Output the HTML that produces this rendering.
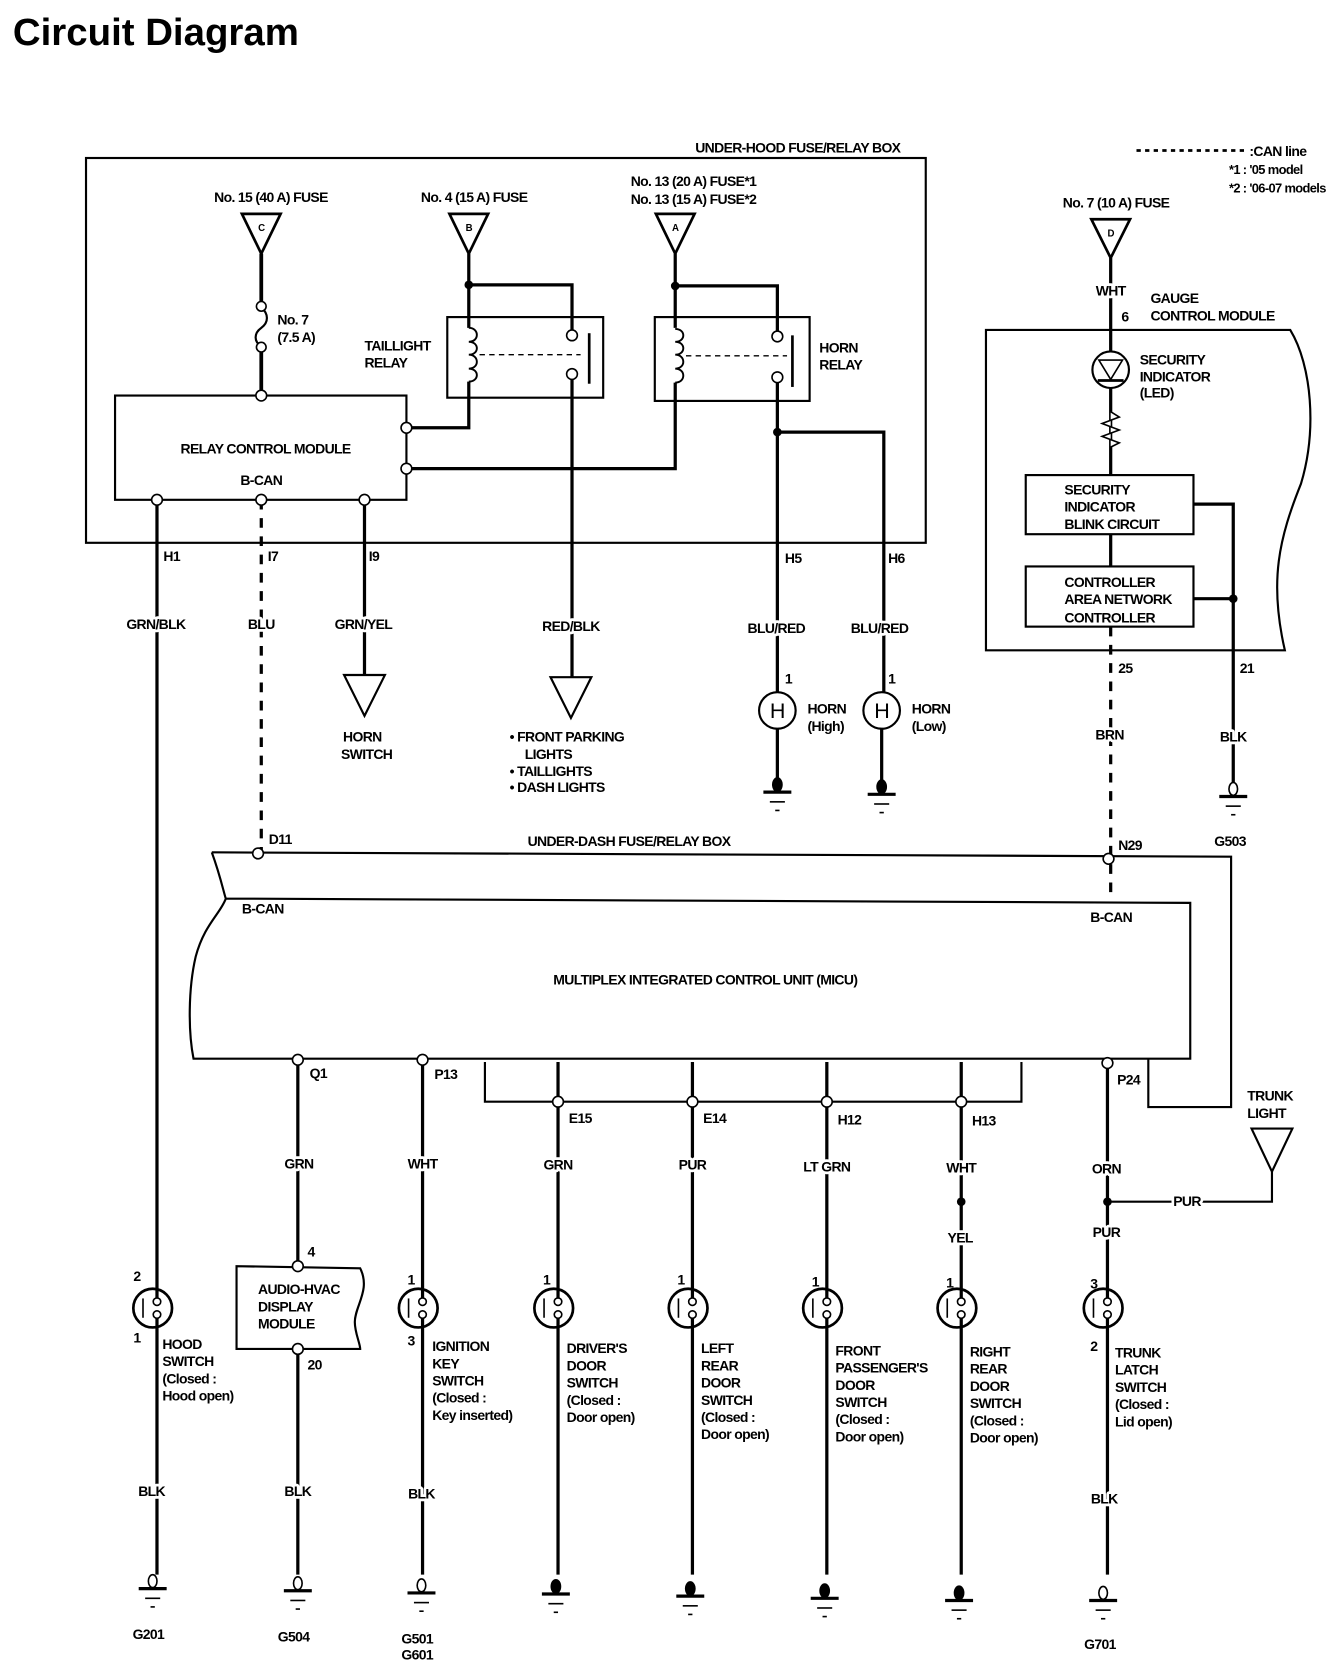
<!DOCTYPE html>
<html><head><meta charset="utf-8"><style>
html,body{margin:0;padding:0;background:#fff;}
svg{display:block;}
text{font-family:"Liberation Sans Narrow","Liberation Sans",sans-serif;font-weight:bold;font-size:13px;fill:#000;}
.t{font-size:13px;letter-spacing:-0.6px;}
.w{paint-order:stroke;stroke:#fff;stroke-width:5px;stroke-linejoin:round;}
</style></head><body>
<svg width="1344" height="1680" viewBox="0 0 1250 1563" preserveAspectRatio="none" xmlns="http://www.w3.org/2000/svg">
<defs>
<g id="sw"><circle cx="-4" cy="0" r="18" fill="#fff" stroke="#000" stroke-width="2.5"/><line x1="-13" y1="-9" x2="-13" y2="9" stroke="#000" stroke-width="1.5"/><line x1="0" y1="-18" x2="0" y2="-8" stroke="#000" stroke-width="3"/><line x1="0" y1="8" x2="0" y2="18" stroke="#000" stroke-width="3"/><circle cx="0" cy="-6" r="3.5" fill="#fff" stroke="#000" stroke-width="1.5"/><circle cx="0" cy="6" r="3.5" fill="#fff" stroke="#000" stroke-width="1.5"/></g>
<g id="go"><ellipse cx="0" cy="-6" rx="4" ry="6" fill="#fff" stroke="#000" stroke-width="1.5"/><line x1="-13" y1="1" x2="13" y2="1" stroke="#000" stroke-width="3"/><line x1="-7" y1="10" x2="7" y2="10" stroke="#000" stroke-width="1.5"/><line x1="-2" y1="18" x2="2" y2="18" stroke="#000" stroke-width="1.5"/></g>
<g id="gf"><ellipse cx="0" cy="-6" rx="5" ry="7" fill="#000"/><line x1="-13" y1="1" x2="13" y2="1" stroke="#000" stroke-width="3"/><line x1="-7" y1="10" x2="7" y2="10" stroke="#000" stroke-width="1.5"/><line x1="-2" y1="18" x2="2" y2="18" stroke="#000" stroke-width="1.5"/></g>
</defs>
<text x="12" y="42" textLength="266" lengthAdjust="spacingAndGlyphs" style="font-family:'Liberation Sans',sans-serif;font-size:35px;font-weight:bold;">Circuit Diagram</text>

<g fill="none" stroke="#000" stroke-width="2.5">
<rect x="80" y="147" width="781" height="358" stroke-width="2"/>
<polygon points="225,199 261,199 243,236"/>
<line x1="243" y1="236" x2="243" y2="282" stroke-width="3.5"/>
<path d="M243,286 C250,292 250,300 243,305 C236,310 236,318 243,322" stroke-width="2"/>
<line x1="243" y1="326" x2="243" y2="368" stroke-width="3.5"/>
<rect x="107" y="368" width="271" height="97" stroke-width="2"/>
<polygon points="418,199 454,199 436,236"/>
<line x1="436" y1="236" x2="436" y2="305" stroke-width="3"/>
<polyline points="436,265 532,265 532,313" stroke-width="3"/>
<rect x="416" y="295" width="145" height="75" stroke-width="2"/>
<path d="M436,305 C446,305 446,318 436,318 M436,318 C446,318 446,330 436,330 M436,330 C446,330 446,343 436,343 M436,343 C446,343 446,355 436,355" stroke-width="1.8"/>
<polyline points="436,355 436,398 378,398" stroke-width="3"/>
<line x1="446" y1="330" x2="540" y2="330" stroke-width="1.3" stroke-dasharray="5,4"/>
<line x1="548" y1="310" x2="548" y2="357" stroke-width="2.5"/>
<line x1="532" y1="350" x2="532" y2="630" stroke-width="3"/>
<polygon points="512,630 550,630 531,668" stroke-width="2"/>
<polygon points="610,199 646,199 628,236"/>
<line x1="628" y1="236" x2="628" y2="305" stroke-width="3"/>
<polyline points="628,266 723,266 723,313" stroke-width="3"/>
<rect x="609" y="295" width="144" height="78" stroke-width="2"/>
<path d="M628,306 C638,306 638,318 628,318 M628,318 C638,318 638,330 628,330 M628,330 C638,330 638,343 628,343 M628,343 C638,343 638,356 628,356" stroke-width="1.8"/>
<polyline points="628,356 628,436 378,436" stroke-width="3"/>
<line x1="638" y1="331" x2="732" y2="331" stroke-width="1.3" stroke-dasharray="5,4"/>
<line x1="737" y1="312" x2="737" y2="360" stroke-width="2.5"/>
<line x1="723" y1="352" x2="723" y2="644" stroke-width="3"/>
<polyline points="723,402 822,402 822,644" stroke-width="3"/>
<circle cx="723" cy="661" r="17" stroke-width="2"/>
<circle cx="820" cy="661" r="17" stroke-width="2"/>
<line x1="723" y1="678" x2="723" y2="728" stroke-width="3"/>
<line x1="820" y1="678" x2="820" y2="728" stroke-width="3"/>
<line x1="146" y1="465" x2="146" y2="1199" stroke-width="3"/>
<line x1="243" y1="465" x2="243" y2="793" stroke-width="3" stroke-dasharray="9,8"/>
<line x1="339" y1="465" x2="339" y2="628" stroke-width="3"/>
<polygon points="320,628 358,628 339,666" stroke-width="2"/>

<polygon points="1015,204 1051,204 1033,240"/>
<line x1="1033" y1="240" x2="1033" y2="442" stroke-width="3"/>
<path d="M917,307 L1200,307 C1220,340 1225,400 1210,450 C1190,500 1180,540 1195,605 L917,605 Z" stroke-width="2"/>
<circle cx="1033" cy="344" r="17" fill="#fff" stroke-width="2"/>
<polygon points="1022,335 1044,335 1033,353" stroke-width="1.5"/>
<line x1="1021" y1="354" x2="1045" y2="354" stroke-width="2.5"/>
<path d="M1033,383 L1041,388 L1025,394 L1041,400 L1025,406 L1041,412 L1033,416" fill="#fff" stroke-width="1.5"/>
<rect x="954" y="442" width="156" height="55" fill="#fff" stroke-width="2"/>
<line x1="1033" y1="497" x2="1033" y2="527" stroke-width="3"/>
<rect x="954" y="527" width="156" height="56" fill="#fff" stroke-width="2"/>
<polyline points="1110,469 1147,469 1147,730" stroke-width="3"/>
<line x1="1110" y1="557" x2="1147" y2="557" stroke-width="3"/>
<line x1="1033" y1="583" x2="1033" y2="836" stroke-width="3" stroke-dasharray="9,8"/>

<path d="M197,793 L1145,797 L1145,1030 L1068,1030 L1068,985" stroke-width="2"/>
<path d="M197,793 C205,815 208,830 210,836 L1107,840 L1107,985 L180,985 C175,960 175,920 182,890 C190,860 205,850 210,836" stroke-width="2"/>
<polyline points="451,988 451,1025 950,1025 950,988" stroke-width="2"/>
<line x1="519" y1="988" x2="519" y2="1199" stroke-width="3"/>
<line x1="644" y1="988" x2="644" y2="1199" stroke-width="3"/>
<line x1="769" y1="988" x2="769" y2="1199" stroke-width="3"/>
<line x1="894" y1="988" x2="894" y2="1199" stroke-width="3"/>
<line x1="277" y1="985" x2="277" y2="1178" stroke-width="3"/>
<line x1="277" y1="1255" x2="277" y2="1465" stroke-width="3"/>
<line x1="393" y1="985" x2="393" y2="1199" stroke-width="3"/>
<line x1="1030" y1="988" x2="1030" y2="1199" stroke-width="3"/>
<polyline points="1030,1118 1183,1118 1183,1090" stroke-width="2"/>
<polygon points="1164,1050 1202,1050 1183,1090" stroke-width="2"/>
<path d="M220,1178 L335,1180 C345,1200 330,1215 330,1230 C330,1240 335,1250 335,1255 L220,1255 Z" stroke-width="2"/>
<line x1="146" y1="1235" x2="146" y2="1465" stroke-width="3"/>
<line x1="393" y1="1235" x2="393" y2="1465" stroke-width="3"/>
<line x1="519" y1="1235" x2="519" y2="1465" stroke-width="3"/>
<line x1="644" y1="1235" x2="644" y2="1465" stroke-width="3"/>
<line x1="769" y1="1235" x2="769" y2="1465" stroke-width="3"/>
<line x1="894" y1="1235" x2="894" y2="1465" stroke-width="3"/>
<line x1="1030" y1="1235" x2="1030" y2="1465" stroke-width="3"/>
<line x1="1057" y1="140" x2="1158" y2="140" stroke-width="2.5" stroke-dasharray="4,4"/>
</g>

<g fill="#fff" stroke="#000" stroke-width="1.5">
<circle cx="243" cy="285" r="4.5"/><circle cx="243" cy="323" r="4.5"/><circle cx="243" cy="368" r="5"/>
<circle cx="146" cy="465" r="5"/><circle cx="243" cy="465" r="5"/><circle cx="339" cy="465" r="5"/>
<circle cx="378" cy="398" r="5"/><circle cx="378" cy="436" r="5"/>
<circle cx="532" cy="312" r="5"/><circle cx="532" cy="348" r="5"/>
<circle cx="723" cy="313" r="5"/><circle cx="723" cy="351" r="5"/>
<circle cx="240" cy="794" r="5"/><circle cx="1031" cy="799" r="5"/>
<circle cx="277" cy="986" r="5"/><circle cx="393" cy="986" r="5"/><circle cx="1030" cy="989" r="5"/>
<circle cx="519" cy="1025" r="5"/><circle cx="644" cy="1025" r="5"/><circle cx="769" cy="1025" r="5"/><circle cx="894" cy="1025" r="5"/>
<circle cx="277" cy="1178" r="5"/><circle cx="277" cy="1255" r="5"/>
</g>
<g fill="#000"><circle cx="436" cy="265" r="4"/><circle cx="628" cy="266" r="4"/><circle cx="723" cy="402" r="4"/><circle cx="1147" cy="557" r="4"/><circle cx="894" cy="1118" r="4"/><circle cx="1030" cy="1118" r="4"/></g>

<use href="#sw" x="146" y="1217"/><use href="#sw" x="393" y="1217"/><use href="#sw" x="519" y="1217"/><use href="#sw" x="644" y="1217"/><use href="#sw" x="769" y="1217"/><use href="#sw" x="894" y="1217"/><use href="#sw" x="1030" y="1217"/>
<use href="#go" x="142" y="1477"/><use href="#go" x="277" y="1479"/><use href="#go" x="392" y="1481"/><use href="#go" x="1026" y="1488"/>
<use href="#gf" x="517" y="1482"/><use href="#gf" x="642" y="1484"/><use href="#gf" x="767" y="1486"/><use href="#gf" x="892" y="1488"/>
<use href="#gf" x="723" y="736"/><use href="#gf" x="820" y="738"/><use href="#go" x="1147" y="740"/>

<g class="t">
<text x="742" y="142" text-anchor="middle">UNDER-HOOD FUSE/RELAY BOX</text>
<text x="1162" y="145">:CAN line</text>
<text x="1143" y="162" style="font-size:12px">*1 : '05 model</text>
<text x="1143" y="179" style="font-size:12px">*2 : '06-07 models</text>
<text x="252" y="188" text-anchor="middle">No. 15 (40 A) FUSE</text>
<text x="441" y="188" text-anchor="middle">No. 4 (15 A) FUSE</text>
<text x="645" y="173" text-anchor="middle">No. 13 (20 A) FUSE*1</text>
<text x="645" y="190" text-anchor="middle">No. 13 (15 A) FUSE*2</text>
<text x="1038" y="193" text-anchor="middle">No. 7 (10 A) FUSE</text>
<text x="243" y="215" text-anchor="middle" style="font-size:9px">C</text>
<text x="436" y="215" text-anchor="middle" style="font-size:9px">B</text>
<text x="628" y="215" text-anchor="middle" style="font-size:9px">A</text>
<text x="1033" y="220" text-anchor="middle" style="font-size:9px">D</text>
<text x="258" y="302">No. 7</text><text x="258" y="318">(7.5 A)</text>
<text x="339" y="326">TAILLIGHT</text><text x="339" y="342">RELAY</text>
<text x="762" y="328">HORN</text><text x="762" y="344">RELAY</text>
<text x="247" y="422" text-anchor="middle">RELAY CONTROL MODULE</text>
<text x="243" y="451" text-anchor="middle">B-CAN</text>
<text x="152" y="522">H1</text><text x="249" y="522">I7</text><text x="343" y="522">I9</text>
<text x="730" y="524">H5</text><text x="826" y="524">H6</text>
<g class="w">
<text x="145" y="585" text-anchor="middle">GRN/BLK</text>
<text x="243" y="585" text-anchor="middle">BLU</text>
<text x="338" y="585" text-anchor="middle">GRN/YEL</text>
<text x="531" y="587" text-anchor="middle">RED/BLK</text>
<text x="722" y="589" text-anchor="middle">BLU/RED</text>
<text x="818" y="589" text-anchor="middle">BLU/RED</text>
<text x="1033" y="275" text-anchor="middle">WHT</text>
<text x="1032" y="688" text-anchor="middle">BRN</text><text x="1147" y="690" text-anchor="middle">BLK</text>
<text x="278" y="1087" text-anchor="middle">GRN</text><text x="393" y="1087" text-anchor="middle">WHT</text>
<text x="519" y="1088" text-anchor="middle">GRN</text><text x="644" y="1088" text-anchor="middle">PUR</text>
<text x="769" y="1090" text-anchor="middle">LT GRN</text><text x="894" y="1091" text-anchor="middle">WHT</text>
<text x="893" y="1156" text-anchor="middle">YEL</text>
<text x="1029" y="1092" text-anchor="middle">ORN</text><text x="1029" y="1151" text-anchor="middle">PUR</text>
<text x="1104" y="1122" text-anchor="middle">PUR</text>
<text x="141" y="1392" text-anchor="middle">BLK</text><text x="277" y="1392" text-anchor="middle">BLK</text>
<text x="392" y="1394" text-anchor="middle">BLK</text><text x="1027" y="1399" text-anchor="middle">BLK</text>
</g>
<text x="730" y="636">1</text><text x="826" y="636">1</text>
<text x="723" y="668" text-anchor="middle" style="font-family:'Liberation Sans',sans-serif;font-weight:normal;font-size:20px">H</text>
<text x="820" y="668" text-anchor="middle" style="font-family:'Liberation Sans',sans-serif;font-weight:normal;font-size:20px">H</text>
<text x="751" y="664">HORN</text><text x="751" y="680">(High)</text>
<text x="848" y="664">HORN</text><text x="848" y="680">(Low)</text>
<text x="337" y="690" text-anchor="middle">HORN</text><text x="341" y="706" text-anchor="middle">SWITCH</text>
<text x="474" y="690">•  FRONT PARKING</text><text x="488" y="706">LIGHTS</text>
<text x="474" y="722">•  TAILLIGHTS</text><text x="474" y="737">•  DASH LIGHTS</text>
<text x="1043" y="299">6</text>
<text x="1070" y="282">GAUGE</text><text x="1070" y="298">CONTROL MODULE</text>
<text x="1060" y="339">SECURITY</text><text x="1060" y="355">INDICATOR</text><text x="1060" y="370">(LED)</text>
<text x="990" y="460">SECURITY</text><text x="990" y="476">INDICATOR</text><text x="990" y="492">BLINK CIRCUIT</text>
<text x="990" y="546">CONTROLLER</text><text x="990" y="562">AREA NETWORK</text><text x="990" y="579">CONTROLLER</text>
<text x="1040" y="626">25</text><text x="1153" y="626">21</text>
<text x="1144" y="787" text-anchor="middle">G503</text>
<text x="250" y="785">D11</text>
<text x="585" y="787" text-anchor="middle">UNDER-DASH FUSE/RELAY BOX</text>
<text x="1040" y="791">N29</text>
<text x="225" y="850">B-CAN</text><text x="1014" y="858">B-CAN</text>
<text x="656" y="916" text-anchor="middle">MULTIPLEX INTEGRATED CONTROL UNIT (MICU)</text>
<text x="288" y="1003">Q1</text><text x="404" y="1004">P13</text>
<text x="529" y="1045">E15</text><text x="654" y="1045">E14</text><text x="779" y="1046">H12</text><text x="904" y="1047">H13</text>
<text x="1039" y="1009">P24</text>
<text x="1160" y="1024">TRUNK</text><text x="1160" y="1040">LIGHT</text>
<text x="124" y="1192">2</text><text x="124" y="1249">1</text>
<text x="286" y="1169">4</text><text x="286" y="1274">20</text>
<text x="240" y="1204">AUDIO-HVAC</text><text x="240" y="1220">DISPLAY</text><text x="240" y="1236">MODULE</text>
<text x="379" y="1195">1</text><text x="379" y="1252">3</text>
<text x="505" y="1195">1</text><text x="630" y="1195">1</text><text x="755" y="1197">1</text><text x="880" y="1198">1</text>
<text x="1014" y="1199">3</text><text x="1014" y="1257">2</text>
<text x="151" y="1255">HOOD</text><text x="151" y="1271">SWITCH</text><text x="151" y="1287">(Closed :</text><text x="151" y="1303">Hood open)</text>
<text x="402" y="1257">IGNITION</text><text x="402" y="1273">KEY</text><text x="402" y="1289">SWITCH</text><text x="402" y="1305">(Closed :</text><text x="402" y="1321">Key inserted)</text>
<text x="527" y="1259">DRIVER'S</text><text x="527" y="1275">DOOR</text><text x="527" y="1291">SWITCH</text><text x="527" y="1307">(Closed :</text><text x="527" y="1323">Door open)</text>
<text x="652" y="1259">LEFT</text><text x="652" y="1275">REAR</text><text x="652" y="1291">DOOR</text><text x="652" y="1307">SWITCH</text><text x="652" y="1323">(Closed :</text><text x="652" y="1339">Door open)</text>
<text x="777" y="1261">FRONT</text><text x="777" y="1277">PASSENGER'S</text><text x="777" y="1293">DOOR</text><text x="777" y="1309">SWITCH</text><text x="777" y="1325">(Closed :</text><text x="777" y="1341">Door open)</text>
<text x="902" y="1262">RIGHT</text><text x="902" y="1278">REAR</text><text x="902" y="1294">DOOR</text><text x="902" y="1310">SWITCH</text><text x="902" y="1326">(Closed :</text><text x="902" y="1342">Door open)</text>
<text x="1037" y="1263">TRUNK</text><text x="1037" y="1279">LATCH</text><text x="1037" y="1295">SWITCH</text><text x="1037" y="1311">(Closed :</text><text x="1037" y="1327">Lid open)</text>
<text x="138" y="1525" text-anchor="middle">G201</text><text x="273" y="1527" text-anchor="middle">G504</text>
<text x="388" y="1529" text-anchor="middle">G501</text><text x="388" y="1544" text-anchor="middle">G601</text>
<text x="1023" y="1534" text-anchor="middle">G701</text>
</g>
</svg>
</body></html>
